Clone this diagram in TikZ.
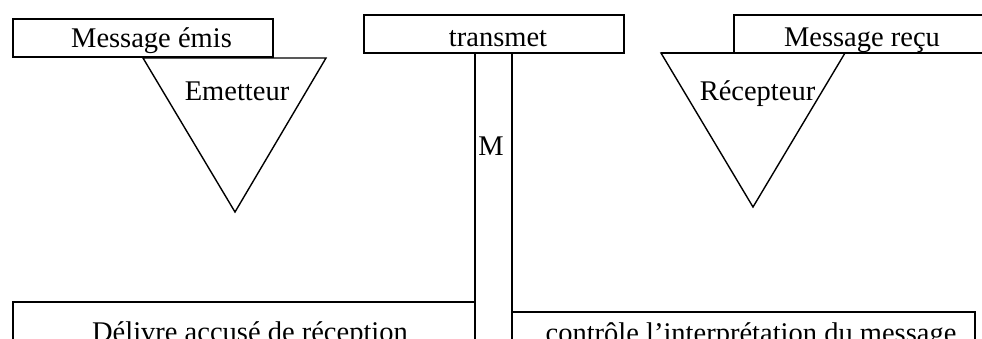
\documentclass[tikz,border=0pt]{standalone}
\usepackage{fontspec}
\setmainfont{Liberation Serif}
\begin{document}
\begin{tikzpicture}[x=1pt, y=-1pt, line width=1.4pt,
  lbl/.style={font=\fontsize{28.5}{34}\selectfont, inner sep=0pt, anchor=base}]
  \useasboundingbox (0,0) rectangle (982,338);
  % upper boxes
  \draw (13,19) rectangle (273,57);
  \draw (364,15) rectangle (624,53);
  \draw (1000,15) -- (734,15) -- (734,53);
  \draw (661,53) -- (1000,53);
  % triangles
  \draw (143,58) -- (326,58) -- (235,212) -- cycle;
  \draw (661,53) -- (845,53) -- (753,207) -- cycle;
  % channel
  \draw (475,53) -- (475,360);
  \draw (512,53) -- (512,360);
  % lower boxes
  \draw (475,302) -- (13,302) -- (13,360);
  \draw (512,312) -- (975,312) -- (975,360);
  % labels
  \node[lbl] (emis) at (151.5,47) {Message émis};
  \node[lbl] (emetteur) at (237,100) {Emetteur};
  \node[lbl] (transmet) at (498,46) {transmet};
  \node[lbl] (canal) at (491,155) {M};
  \node[lbl] (recu) at (862,46) {Message reçu};
  \node[lbl] (recepteur) at (757.5,100) {Récepteur};
  \node[lbl] (delivre) at (250,341) {Délivre accusé de réception};
  \node[lbl] (controle) at (751,342.5) {contrôle l’interprétation du message};
\end{tikzpicture}
\end{document}
